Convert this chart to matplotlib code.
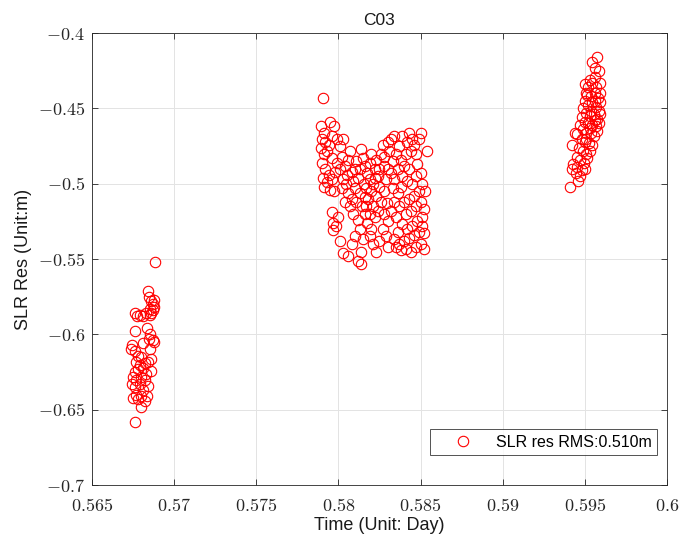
import matplotlib
matplotlib.use("Agg")
import matplotlib.pyplot as plt
from matplotlib.ticker import FuncFormatter

# ---- data ----
c1_x = [0.56882,0.56838,0.56845,0.56860,0.56872,0.56880,0.56870,0.56862,0.56855,0.56880,
        0.56762,0.56775,0.56790,0.56810,0.56830,0.56850,
        0.56760,0.56835,0.56850,0.56845,0.56870,0.56880,0.56810,
        0.56745,0.56760,0.56740,0.56780,
        0.56800,0.56770,0.56790,0.56820,0.56810,0.56780,0.56760,0.56840,0.56850,0.56860,
        0.56750,0.56770,0.56800,0.56820,0.56790,0.56760,0.56745,0.56830,0.56860,0.56840,
        0.56770,0.56750,0.56800,0.56820,0.56780,0.56810,0.56835,0.56800,0.56760]
c1_y = [-0.552,-0.571,-0.575,-0.578,-0.580,-0.577,-0.584,-0.586,-0.583,-0.582,
        -0.586,-0.588,-0.587,-0.588,-0.586,-0.587,
        -0.598,-0.596,-0.600,-0.603,-0.604,-0.605,-0.606,
        -0.607,-0.611,-0.610,-0.614,
        -0.615,-0.618,-0.620,-0.619,-0.622,-0.623,-0.625,-0.618,-0.610,-0.616,
        -0.628,-0.630,-0.628,-0.630,-0.633,-0.635,-0.633,-0.626,-0.624,-0.634,
        -0.640,-0.642,-0.641,-0.644,-0.643,-0.637,-0.641,-0.648,-0.658]

c2_x = [0.57905,0.57895,0.57910,0.57900,0.57920,0.57895,0.57930,0.57910,0.57945,0.57960,0.57950,0.57975,0.57990,0.57960,0.57900,0.57920,0.57940,0.57905,0.57930,0.57960,0.57980,0.57990,0.57950,0.57975,0.57915,0.57960,0.57970,0.57985,0.57965,0.57995,0.58010,0.58030,
        0.58010,0.58030,0.58020,0.58040,0.58010,0.58050,0.58030,0.58060,0.58070,0.58045,0.58020,0.58060,0.58080,0.58040,0.58070,0.58090,0.58100,0.58110,0.58085,0.58120,0.58100,0.58130,0.58110,0.58090,0.58120,0.58130,0.58100,0.58080,0.58060,0.58120,0.58135,0.58140,0.58150,0.58140,0.58150,0.58130,0.58155,0.58145,0.58160,
        0.58160,0.58175,0.58190,0.58170,0.58200,0.58180,0.58210,0.58220,0.58230,0.58200,0.58190,0.58240,0.58250,0.58230,0.58210,0.58190,0.58175,0.58200,0.58220,0.58240,0.58260,0.58190,0.58210,0.58230,0.58250,0.58270,0.58260,0.58270,0.58280,0.58290,0.58275,0.58295,0.58280,0.58300,0.58290,0.58300,0.58280,0.58300,0.58300,0.58170,0.58160,0.58220,0.58250,
        0.58310,0.58320,0.58340,0.58330,0.58320,0.58340,0.58360,0.58350,0.58370,0.58380,0.58330,0.58360,0.58340,0.58320,0.58350,0.58370,0.58380,0.58390,0.58400,0.58410,0.58420,0.58390,0.58430,0.58445,0.58440,0.58460,0.58470,0.58500,0.58490,0.58480,0.58430,0.58420,0.58450,0.58470,0.58500,0.58510,0.58490,0.58460,0.58430,0.58400,0.58410,0.58440,0.58470,0.58500,0.58520,0.58510,0.58480,0.58450,0.58420,0.58390,0.58360,0.58340,0.58370,0.58400,0.58430,0.58460,0.58490,0.58520,0.58500,0.58470,0.58440,0.58410,0.58380,0.58350,0.58520,0.58540,0.58525,0.58510]
c2_y = [-0.443,-0.462,-0.466,-0.470,-0.472,-0.476,-0.478,-0.480,-0.474,-0.468,-0.459,-0.462,-0.470,-0.483,-0.486,-0.490,-0.494,-0.496,-0.499,-0.497,-0.492,-0.486,-0.504,-0.505,-0.502,-0.519,-0.526,-0.528,-0.531,-0.522,-0.538,-0.546,
        -0.475,-0.470,-0.482,-0.488,-0.490,-0.494,-0.497,-0.484,-0.478,-0.500,-0.503,-0.506,-0.510,-0.512,-0.515,-0.498,-0.490,-0.485,-0.492,-0.496,-0.503,-0.506,-0.512,-0.520,-0.524,-0.530,-0.535,-0.540,-0.548,-0.551,-0.553,-0.545,-0.537,-0.477,-0.483,-0.490,-0.500,-0.515,-0.520,
        -0.488,-0.493,-0.497,-0.503,-0.505,-0.510,-0.500,-0.490,-0.484,-0.480,-0.486,-0.495,-0.502,-0.508,-0.515,-0.520,-0.526,-0.530,-0.522,-0.518,-0.512,-0.535,-0.540,-0.545,-0.538,-0.530,-0.480,-0.474,-0.488,-0.497,-0.505,-0.513,-0.520,-0.525,-0.535,-0.542,-0.482,-0.490,-0.472,-0.515,-0.509,-0.496,-0.490,
        -0.478,-0.470,-0.468,-0.485,-0.493,-0.497,-0.490,-0.480,-0.475,-0.484,-0.503,-0.506,-0.512,-0.518,-0.522,-0.515,-0.502,-0.495,-0.488,-0.480,-0.472,-0.468,-0.466,-0.470,-0.478,-0.474,-0.480,-0.466,-0.470,-0.487,-0.490,-0.498,-0.500,-0.495,-0.493,-0.500,-0.505,-0.508,-0.510,-0.512,-0.520,-0.518,-0.515,-0.512,-0.517,-0.522,-0.525,-0.528,-0.530,-0.527,-0.532,-0.537,-0.540,-0.538,-0.536,-0.534,-0.532,-0.533,-0.540,-0.542,-0.545,-0.543,-0.544,-0.542,-0.543,-0.478,-0.505,-0.528]

c3_x = [0.59575,0.59545,0.59560,0.59585,0.59560,0.59530,0.59500,0.59520,0.59545,0.59570,0.59590,0.59510,0.59535,0.59560,0.59580,0.59595,0.59500,0.59520,0.59545,0.59570,0.59585,0.59490,0.59510,0.59530,0.59555,0.59575,0.59595,0.59480,0.59500,0.59520,0.59545,0.59565,0.59585,0.59470,0.59490,0.59510,0.59535,0.59555,0.59575,0.59455,0.59480,0.59500,0.59525,0.59545,0.59465,0.59490,0.59510,0.59530,0.59450,0.59470,0.59495,0.59515,0.59430,0.59455,0.59480,0.59500,0.59420,0.59445,0.59470,0.59460,0.59410,0.59420,0.59440,0.59515,0.59540,0.59560,0.59590,0.59560,0.59530,0.59505]
c3_y = [-0.416,-0.419,-0.423,-0.425,-0.429,-0.431,-0.434,-0.436,-0.433,-0.436,-0.433,-0.440,-0.442,-0.440,-0.443,-0.446,-0.445,-0.448,-0.446,-0.449,-0.452,-0.450,-0.453,-0.455,-0.454,-0.457,-0.454,-0.456,-0.459,-0.460,-0.461,-0.462,-0.460,-0.461,-0.464,-0.466,-0.466,-0.468,-0.465,-0.467,-0.470,-0.472,-0.473,-0.474,-0.476,-0.478,-0.480,-0.478,-0.482,-0.484,-0.486,-0.483,-0.487,-0.489,-0.491,-0.490,-0.490,-0.493,-0.495,-0.498,-0.502,-0.474,-0.466,-0.441,-0.452,-0.445,-0.440,-0.458,-0.463,-0.470]

time_x = c1_x + c2_x + c3_x
res_y = c1_y + c2_y + c3_y

title = "C03"
xlabel = "Time (Unit: Day)"
ylabel = "SLR Res (Unit:m)"
legend_label = "SLR res RMS:0.510m"
xticks = [0.565, 0.57, 0.575, 0.58, 0.585, 0.59, 0.595, 0.6]
yticks = [-0.7, -0.65, -0.6, -0.55, -0.5, -0.45, -0.4]

plt.rcParams['font.family'] = ['Liberation Sans', 'DejaVu Sans']
plt.rcParams['mathtext.fontset'] = 'cm'

fig = plt.figure(figsize=(6.82, 5.42), dpi=100)
ax = fig.add_axes([0.1349, 0.105, 0.978 - 0.1349, 0.939 - 0.105])

ax.plot(time_x, res_y, linestyle='none', marker='o', markersize=7.5,
        markerfacecolor='none', markeredgecolor='red', markeredgewidth=0.8,
        label=legend_label)

ax.set_xlim(0.565, 0.6)
ax.set_ylim(-0.7, -0.4)
ax.set_xticks(xticks)
ax.set_yticks(yticks)
fmt = FuncFormatter(lambda v, p: r'$%s$' % ('%g' % v))
ax.xaxis.set_major_formatter(fmt)
ax.yaxis.set_major_formatter(fmt)
ax.tick_params(direction='in', top=True, right=True, labelsize=13,
               length=4, width=0.6, colors='#262626')
ax.tick_params(axis='x', pad=9)
ax.tick_params(axis='y', pad=5)
ax.grid(True, color='#e3e3e3', linewidth=0.7)
ax.set_axisbelow(True)
for s in ax.spines.values():
    s.set_linewidth(0.6)
    s.set_color('#262626')

ax.set_title(title, fontsize=12.5, color='#1a1a1a', pad=6)
ax.set_xlabel(xlabel, fontsize=13, color='#1a1a1a', labelpad=2)
ax.set_ylabel(ylabel, fontsize=13, color='#1a1a1a', labelpad=4)

leg = ax.legend(loc='lower right', bbox_to_anchor=(0.983, 0.066), fontsize=11.5,
                frameon=True, fancybox=False, edgecolor='#262626',
                borderpad=0.35, handletextpad=0.3, handlelength=3.5,
                borderaxespad=0)
leg.get_frame().set_linewidth(0.7)

fig.savefig("out.png", dpi=100)
